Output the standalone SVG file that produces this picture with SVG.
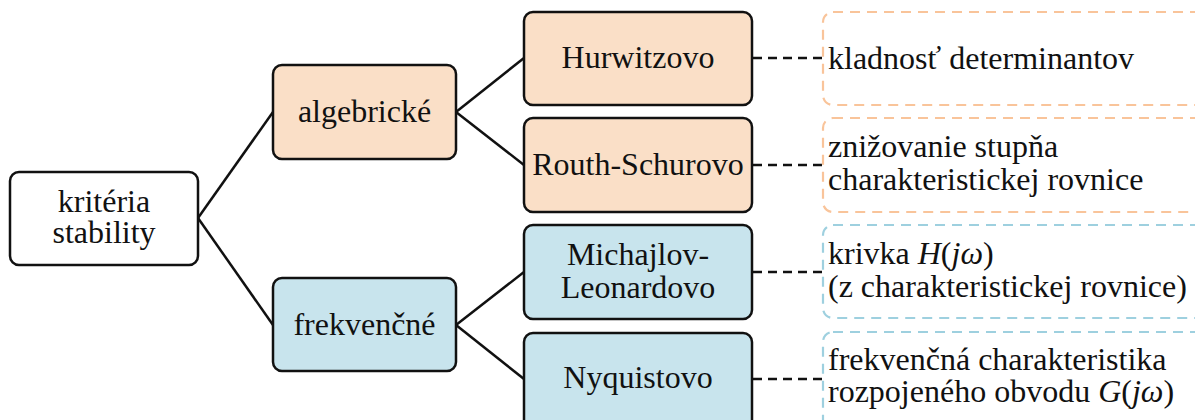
<svg xmlns="http://www.w3.org/2000/svg" width="1195" height="420" viewBox="0 0 1195 420">
<style>
text{font-family:"Liberation Serif","Times New Roman",serif;font-size:32px;fill:#111}
.n{stroke:#111;stroke-width:2.5}
.w{fill:#fff}
.o{fill:#FADFC7}
.b{fill:#C8E4ED}
.c{fill:none;stroke:#111;stroke-width:2.5}
.d{fill:none;stroke:#111;stroke-width:2.5;stroke-dasharray:9 6}
.db{fill:none;stroke-width:2.2;stroke-dasharray:10 7}
.dbo{stroke:#F9C49A}
.dbb{stroke:#9ED0DF}
.m{text-anchor:middle}
.i{font-style:italic}
</style>
<g id="connectors">
<polyline class="c" points="198,218 273,112"/>
<polyline class="c" points="198,218 273,325"/>
<polyline class="c" points="456,112 524,58"/>
<polyline class="c" points="456,112 524,165"/>
<polyline class="c" points="456,325 524,272"/>
<polyline class="c" points="456,325 524,379"/>
<line class="d" x1="753" y1="58" x2="823" y2="58"/>
<line class="d" x1="753" y1="165" x2="823" y2="165"/>
<line class="d" x1="753" y1="272" x2="823" y2="272"/>
<line class="d" x1="753" y1="379" x2="823" y2="379"/>
</g>
<g id="root"><rect class="n w" x="10" y="172" width="188" height="93" rx="9"/><text class="m" x="104" y="212">kritéria</text><text class="m" x="104" y="243">stability</text></g>
<g id="algebricke"><rect class="n o" x="273" y="65" width="183" height="94" rx="9"/><text class="m" x="364.5" y="122">algebrické</text></g>
<g id="frekvencne"><rect class="n b" x="273" y="278" width="183" height="93" rx="9"/><text class="m" x="364.5" y="335">frekvenčné</text></g>
<g id="hurwitz"><rect class="n o" x="524" y="12" width="228" height="93" rx="9"/><text class="m" x="638" y="68">Hurwitzovo</text></g>
<g id="routh"><rect class="n o" x="524" y="118" width="228" height="94" rx="9"/><text class="m" x="638" y="175">Routh-Schurovo</text></g>
<g id="michajlov"><rect class="n b" x="524" y="225" width="228" height="94" rx="9"/><text class="m" x="638" y="265">Michajlov-</text><text class="m" x="638" y="298">Leonardovo</text></g>
<g id="nyquist"><rect class="n b" x="524" y="333" width="228" height="100" rx="9"/><text class="m" x="638" y="388">Nyquistovo</text></g>
<g id="note-hurwitz"><rect class="db dbo" x="823" y="12" width="400" height="93" rx="10"/><text x="828" y="69">kladnosť determinantov</text></g>
<g id="note-routh"><rect class="db dbo" x="823" y="118" width="400" height="94" rx="10"/><text x="828" y="157">znižovanie stupňa</text><text x="828" y="190">charakteristickej rovnice</text></g>
<g id="note-michajlov"><rect class="db dbb" x="823" y="225" width="400" height="93" rx="10"/><text x="828" y="263.5">krivka <tspan class="i">H</tspan>(<tspan class="i">jω</tspan>)</text><text x="828" y="296.5">(z charakteristickej rovnice)</text></g>
<g id="note-nyquist"><rect class="db dbb" x="823" y="332" width="400" height="100" rx="10"/><text x="828" y="370">frekvenčná charakteristika</text><text x="828" y="402">rozpojeného obvodu <tspan class="i">G</tspan>(<tspan class="i">jω</tspan>)</text></g>
</svg>
